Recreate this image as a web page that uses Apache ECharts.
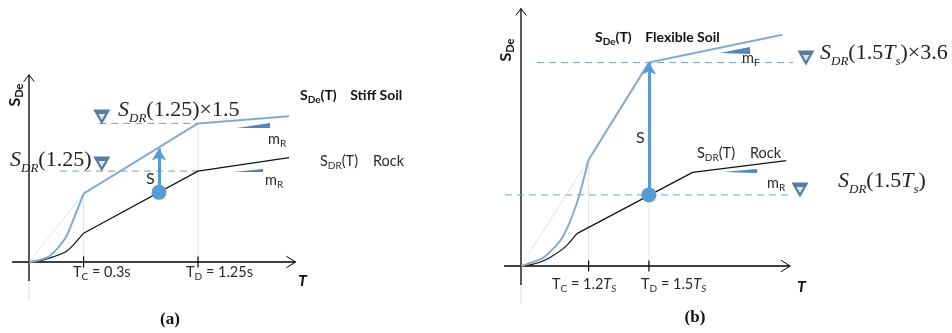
<!DOCTYPE html>
<html>
<head>
<meta charset="utf-8">
<script src="https://cdn.jsdelivr.net/npm/echarts@6/dist/echarts.min.js"></script>
<style>html,body{margin:0;background:#fff}#main{width:952px;height:333px}</style>
</head>
<body>
<div id="main"></div>
<script>
// schematic units: T along x, S along y (arbitrary scale)

// panel (a) stiff soil
var aRockT = [0, 0.4, 0.8, 1.4, 1.7, 2.1, 6.5, 10];
var aRockS = [0, 0.06, 0.22, 0.56, 0.94, 1.6, 5.05, 5.8];
var aSoilT = [0, 0.4, 0.8, 1.4, 1.7, 2.1, 6.5, 10];
var aSoilS = [0, 0.11, 0.33, 1.33, 2.33, 3.8, 7.7, 8.1];
var aTc = 2.1, aTd = 6.5;
var aDashHi = [2.7, 6.5, 7.7];    // from, to, level
var aDashLo = [1.2, 6.5, 5.05];
var aArrow = [5.0, 3.87, 6.3];    // T, from S, to S
var aMarks = [[2.8, 8.05], [2.8, 5.45]];
var aWedges = [[[8.0, 7.44], [9.27, 7.72], [9.27, 7.44]], [[7.85, 5.0], [9.0, 5.17], [9.0, 5.0]]];

// panel (b) flexible soil
var bRockT = [0, 0.35, 0.75, 1.15, 1.7, 2.15, 6.6, 10.2];
var bRockS = [0, 0.06, 0.22, 0.5, 1.06, 1.8, 5.2, 5.85];
var bSoilT = [0, 0.35, 0.85, 1.58, 2.15, 2.6, 4.92, 10.05];
var bSoilS = [0, 0.17, 0.44, 1.56, 3.5, 5.9, 11.3, 12.85];
var bTc = 2.6, bTd = 4.92;
var bDashHi = [0.62, 14.95, 11.3];
var bDashLo = [-0.62, 15.1, 3.95];
var bArrow = [4.92, 3.95, 11.3];
var bMarks = [[10.96, 11.56], [10.73, 4.22]];
var bWedges = [[[7.65, 11.83], [8.81, 12.17], [8.81, 11.78]], [[7.77, 5.22], [9.08, 5.39], [9.08, 5.17]]];

var axA = {ox: 29, oy: 262, xMin: -0.7, xMax: 10.3, yMin: -2.2, yMax: 10.4, xEnd: 10.25, yEnd: 10.4};
var axB = {ox: 521, oy: 266, xMin: -0.7, xMax: 10.4, yMin: -2.1, yMax: 14.35, xEnd: 10.35, yEnd: 14.3};
var kx = 26, ky = 18;
var KINK = 5; // index where the curved rise ends

var SOIL = '#84aad0', ROCK = '#111', DASH = '#7d9cbc', FAINT = '#dfe4ea', BLUE = '#5b9bd5', DARK = '#2a5a88';

function grid(a) {
    return {left: a.ox + a.xMin * kx, top: a.oy - a.yMax * ky, width: (a.xMax - a.xMin) * kx, height: (a.yMax - a.yMin) * ky};
}
function line(g, xs, ys, color, width, type, z, smooth) {
    return {
        type: 'line', xAxisIndex: g, yAxisIndex: g, symbol: 'none', clip: false, silent: true, z: z || 2,
        smooth: smooth || false,
        data: xs.map(function (x, i) { return [x, ys[i]]; }),
        lineStyle: {color: color, width: width, type: type || 'solid'}
    };
}
function curve(g, xs, ys, color, width) {
    return [
        line(g, xs.slice(0, KINK + 1), ys.slice(0, KINK + 1), color, width, 'solid', 4, 0.25),
        line(g, xs.slice(KINK), ys.slice(KINK), color, width, 'solid', 4)
    ];
}
function wedge(g, pts) {
    return {
        type: 'custom', xAxisIndex: g, yAxisIndex: g, data: [0], clip: false, silent: true, z: 3,
        renderItem: function (params, api) {
            return {type: 'polygon', shape: {points: pts.map(function (p) { return api.coord(p); })}, style: {fill: '#4f86bd'}};
        }
    };
}
function tri(g, marks, size, color, z) {
    return {
        type: 'scatter', xAxisIndex: g, yAxisIndex: g, data: marks, symbol: 'triangle', symbolRotate: 180,
        symbolSize: size, silent: true, z: z, clip: false, itemStyle: {color: color}
    };
}

function panel(g, a, rT, rS, sT, sS, tc, td, dHi, dLo, arr, marks, wedges) {
    var s = [];
    // axes
    s.push(line(g, [a.xMin + 0.05, a.xEnd], [0, 0], '#000', 1.3));
    s.push(line(g, [a.xEnd - 0.35, a.xEnd, a.xEnd - 0.35], [0.32, 0, -0.32], '#000', 1));
    s.push(line(g, [0, 0], [-1.05, a.yEnd], '#000', 1.3));
    s.push(line(g, [0, 0], [a.yMin, -1.05], FAINT, 1.3));
    s.push(line(g, [-0.2, 0, 0.2], [a.yEnd - 0.38, a.yEnd, a.yEnd - 0.38], '#000', 1));
    s.push(line(g, [tc, tc], [-0.3, 0.3], '#000', 1.2));
    s.push(line(g, [td, td], [-0.3, 0.3], '#000', 1.2));
    // faint guides
    s.push(line(g, [tc, tc], [0, sS[KINK]], FAINT, 1, 'solid', 1));
    s.push(line(g, [td, td], [0, sS[KINK + 1]], FAINT, 1, 'solid', 1));
    s.push(line(g, [0, tc], [0, sS[KINK]], FAINT, 1, 'solid', 1));
    // dashed levels
    s.push(line(g, [dHi[0], dHi[1]], [dHi[2], dHi[2]], DASH, 1, [7, 5]));
    s.push(line(g, [dLo[0], dLo[1]], [dLo[2], dLo[2]], DASH, 1, [7, 5]));
    // spectra
    s = s.concat(curve(g, rT, rS, ROCK, 1.2), curve(g, sT, sS, SOIL, 2));
    // amplification arrow
    s.push({
        type: 'line', xAxisIndex: g, yAxisIndex: g, data: [], z: 5,
        markLine: {
            silent: true, animation: false, label: {show: false},
            lineStyle: {color: BLUE, width: 3, type: 'solid'},
            data: [[{coord: [arr[0], arr[1]], symbol: 'circle', symbolSize: 15},
                    {coord: [arr[0], arr[2]], symbol: 'arrow', symbolSize: [11, 12]}]]
        }
    });
    // level markers: dark triangle with a small white core
    s.push(tri(g, marks, [17, 15], DARK, 6));
    s.push(tri(g, marks, [7, 6], '#fff', 7));
    wedges.forEach(function (w) { s.push(wedge(g, w)); });
    return s;
}

var serif = 'Liberation Serif', sans = 'Lato';
var rich = {
    S: {fontFamily: serif, fontStyle: 'italic', fontSize: 22, lineHeight: 30, verticalAlign: 'middle', fill: '#222'},
    sb: {fontFamily: serif, fontStyle: 'italic', fontSize: 13, lineHeight: 13, verticalAlign: 'bottom', fill: '#222'},
    p: {fontFamily: serif, fontSize: 22, lineHeight: 30, verticalAlign: 'middle', fill: '#222'},
    it: {fontFamily: serif, fontStyle: 'italic', fontSize: 22, lineHeight: 30, verticalAlign: 'middle', fill: '#222'},
    c: {fontFamily: sans, fontSize: 14.5, lineHeight: 20, verticalAlign: 'middle', fill: '#2a2a2a'},
    cs: {fontFamily: sans, fontSize: 10, lineHeight: 10, verticalAlign: 'bottom', fill: '#2a2a2a'},
    ci: {fontFamily: sans, fontStyle: 'italic', fontSize: 14.5, lineHeight: 20, verticalAlign: 'middle', fill: '#2a2a2a'},
    cis: {fontFamily: sans, fontStyle: 'italic', fontSize: 10, lineHeight: 10, verticalAlign: 'bottom', fill: '#2a2a2a'},
    cl: {fontFamily: sans, fontSize: 16, lineHeight: 20, verticalAlign: 'middle', fill: '#2a2a2a'},
    cb: {fontFamily: sans, fontWeight: 'bold', fontSize: 14, lineHeight: 20, verticalAlign: 'middle', fill: '#111'},
    cbs: {fontFamily: sans, fontWeight: 'bold', fontSize: 10, lineHeight: 10, verticalAlign: 'bottom', fill: '#111'},
    yb: {fontFamily: sans, fontWeight: 'bold', fontSize: 16, lineHeight: 20, verticalAlign: 'middle', fill: '#111'},
    ybs: {fontFamily: sans, fontWeight: 'bold', fontSize: 11, lineHeight: 11, verticalAlign: 'bottom', fill: '#111'}
};
function txt(x, y, text, opt) {
    opt = opt || {};
    return {
        type: 'text', x: x, y: y, rotation: opt.rot || 0, silent: true, z: 10,
        style: {text: text, rich: rich, align: opt.align || 'left', verticalAlign: 'middle',
                font: opt.font, fill: opt.fill || '#222'}
    };
}

var texts = [
    txt(15, 95, '{yb|S}{ybs|De}', {rot: Math.PI / 2, align: 'center'}),
    txt(118, 110, '{S|S}{sb|DR}{p|(1.25)×1.5}'),
    txt(10, 160, '{S|S}{sb|DR}{p|(1.25)}'),
    txt(300, 95, '{cb|S}{cbs|De}{cb|(T)    Stiff Soil}'),
    txt(320, 161, '{c|S}{cs|DR}{c|(T)    Rock}'),
    txt(268, 139, '{c|m}{cs|R}'),
    txt(265, 180, '{c|m}{cs|R}'),
    txt(146, 179, '{cl|S}'),
    txt(73, 272, '{c|T}{cs|C}{c| = 0.3s}'),
    txt(186, 272, '{c|T}{cs|D}{c| = 1.25s}'),
    txt(298, 281, 'T', {font: 'italic bold 16px Lato', fill: '#111'}),
    txt(170, 320, '(a)', {font: 'bold 17px "Liberation Serif"', align: 'center', fill: '#111'}),

    txt(506, 50, '{yb|S}{ybs|De}', {rot: Math.PI / 2, align: 'center'}),
    txt(595, 37, '{cb|S}{cbs|De}{cb|(T)    Flexible Soil}'),
    txt(820, 53, '{S|S}{sb|DR}{p|(1.5}{it|T}{sb|s}{p|)×3.6}'),
    txt(742, 58, '{c|m}{cs|F}'),
    txt(697, 153, '{c|S}{cs|DR}{c|(T)    Rock}'),
    txt(767, 183, '{c|m}{cs|R}'),
    txt(838, 181, '{S|S}{sb|DR}{p|(1.5}{it|T}{sb|s}{p|)}'),
    txt(636, 138, '{cl|S}'),
    txt(552, 284, '{c|T}{cs|C}{c| = 1.2}{ci|T}{cis|S}'),
    txt(641, 284, '{c|T}{cs|D}{c| = 1.5}{ci|T}{cis|S}'),
    txt(797, 287, 'T', {font: 'italic bold 16px Lato', fill: '#111'}),
    txt(695, 318, '(b)', {font: 'bold 17px "Liberation Serif"', align: 'center', fill: '#111'})
];

var myChart = echarts.init(document.getElementById('main'));
var option = {
    animation: false,
    backgroundColor: '#fff',
    grid: [grid(axA), grid(axB)],
    xAxis: [
        {type: 'value', gridIndex: 0, min: axA.xMin, max: axA.xMax, show: false},
        {type: 'value', gridIndex: 1, min: axB.xMin, max: axB.xMax, show: false}
    ],
    yAxis: [
        {type: 'value', gridIndex: 0, min: axA.yMin, max: axA.yMax, show: false},
        {type: 'value', gridIndex: 1, min: axB.yMin, max: axB.yMax, show: false}
    ],
    series: [].concat(
        panel(0, axA, aRockT, aRockS, aSoilT, aSoilS, aTc, aTd, aDashHi, aDashLo, aArrow, aMarks, aWedges),
        panel(1, axB, bRockT, bRockS, bSoilT, bSoilS, bTc, bTd, bDashHi, bDashLo, bArrow, bMarks, bWedges)
    ),
    graphic: texts
};
myChart.setOption(option);
</script>
</body>
</html>
